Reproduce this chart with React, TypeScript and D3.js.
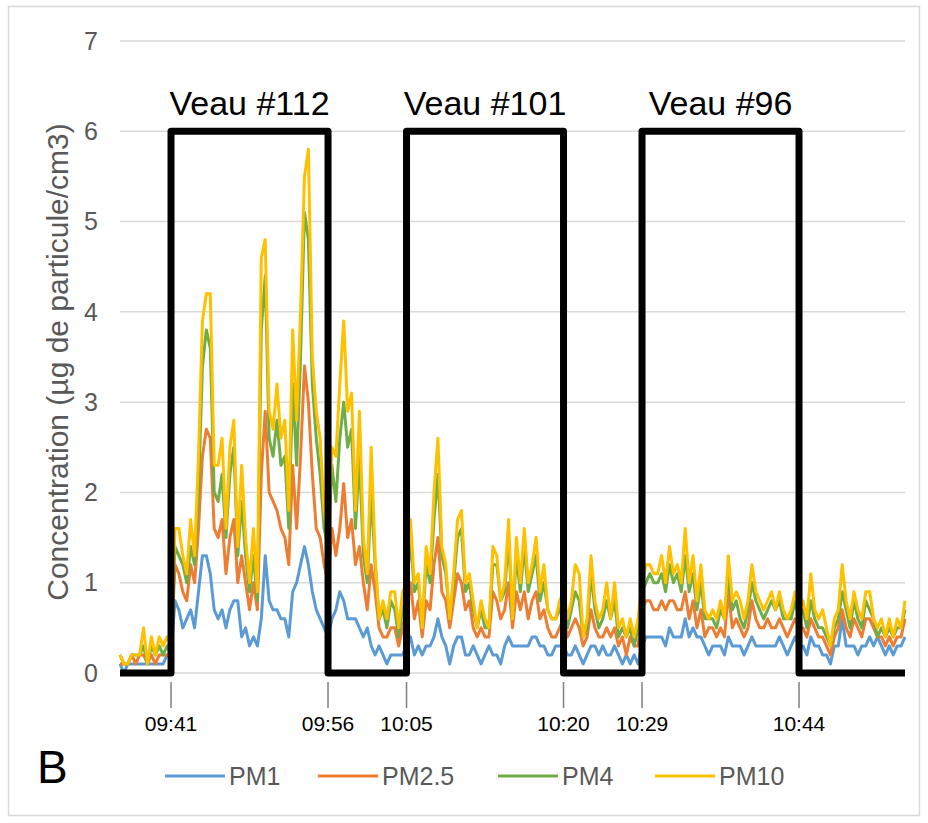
import React from 'react';
import * as d3 from 'd3';

// concentrations (µg/cm3), one reading per sample, 201 samples
const pm1 = [
  0.1, 0.0, 0.1, 0.1, 0.1, 0.1, 0.1, 0.1, 0.1, 0.1, 0.1, 0.1, 0.2, 0.2,
  0.8, 0.7, 0.5, 0.6, 0.7, 0.5, 0.9, 1.3, 1.3, 1.1, 0.7, 0.6, 0.7, 0.5, 0.7, 0.8, 0.8, 0.4, 0.5, 0.3, 0.4, 0.3, 0.6,
  1.3, 0.8, 0.7, 0.7, 0.6, 0.6, 0.4, 0.9, 1.0, 1.2, 1.4, 1.2, 0.9, 0.7, 0.6, 0.5, 0.4,
  0.6, 0.7, 0.9, 0.8, 0.6, 0.6, 0.6, 0.5, 0.4, 0.5, 0.3, 0.2, 0.3, 0.2, 0.1, 0.2, 0.2, 0.2, 0.2,
  0.3, 0.4, 0.2, 0.3, 0.2, 0.3, 0.3, 0.4, 0.6, 0.4, 0.3, 0.1, 0.3, 0.4, 0.4, 0.2, 0.2, 0.3, 0.2, 0.1,
  0.2, 0.3, 0.2, 0.2, 0.1, 0.3, 0.4, 0.3, 0.3, 0.3, 0.3, 0.3, 0.4, 0.4, 0.3, 0.3, 0.2, 0.2, 0.3, 0.3, 0.3,
  0.2, 0.2, 0.3, 0.2, 0.1, 0.2, 0.3, 0.3, 0.2, 0.3, 0.2, 0.2, 0.3, 0.2, 0.1, 0.2, 0.1, 0.2, 0.1,
  0.3, 0.4, 0.4, 0.4, 0.4, 0.4, 0.3, 0.5, 0.4, 0.4, 0.4, 0.6, 0.4, 0.5, 0.4, 0.4, 0.3, 0.2, 0.3, 0.3,
  0.3, 0.2, 0.4, 0.3, 0.3, 0.3, 0.2, 0.3, 0.4, 0.3, 0.3, 0.3, 0.3, 0.3, 0.3, 0.4, 0.3, 0.2, 0.3, 0.4, 0.3,
  0.3, 0.2, 0.4, 0.3, 0.3, 0.2, 0.2, 0.1, 0.3, 0.3, 0.6, 0.3, 0.3, 0.3, 0.2, 0.3, 0.3, 0.4, 0.3, 0.4,
  0.3, 0.2, 0.3, 0.2, 0.3, 0.3, 0.4,
];

const pm25 = [
  0.1, 0.1, 0.1, 0.2, 0.1, 0.2, 0.2, 0.1, 0.2, 0.1, 0.2, 0.2, 0.2, 0.2,
  1.2, 1.1, 0.9, 0.8, 1.2, 1.0, 1.6, 2.4, 2.7, 2.6, 1.6, 1.5, 1.7, 1.1, 1.5, 1.7, 1.0, 1.3, 1.0, 0.7, 1.0, 0.7, 2.2,
  2.9, 2.0, 1.9, 1.8, 1.6, 1.5, 1.2, 2.3, 1.6, 2.4, 3.4, 3.0, 2.2, 1.6, 1.5, 1.2, 1.0,
  1.6, 1.3, 1.6, 2.1, 1.5, 1.7, 1.2, 1.4, 1.0, 0.7, 1.2, 0.9, 0.5, 0.4, 0.4, 0.5, 0.5, 0.3, 0.5,
  0.7, 1.0, 0.6, 0.8, 0.4, 0.8, 0.7, 1.2, 1.5, 0.9, 0.8, 0.5, 0.8, 1.1, 1.0, 0.7, 0.8, 0.5, 0.4, 0.5,
  0.4, 0.4, 0.9, 0.8, 0.6, 0.7, 1.0, 0.5, 0.9, 0.7, 0.9, 0.6, 0.8, 0.9, 0.6, 0.7, 0.5, 0.4, 0.4, 0.5, 0.6,
  0.4, 0.5, 0.6, 0.5, 0.3, 0.4, 0.7, 0.5, 0.4, 0.4, 0.5, 0.4, 0.5, 0.3, 0.4, 0.2, 0.4, 0.3, 0.3,
  0.7, 0.8, 0.8, 0.7, 0.7, 0.8, 0.7, 0.8, 0.8, 0.7, 0.7, 0.9, 0.6, 0.8, 0.5, 0.7, 0.4, 0.5, 0.5, 0.4,
  0.5, 0.4, 0.9, 0.5, 0.6, 0.5, 0.4, 0.5, 0.8, 0.6, 0.5, 0.5, 0.6, 0.5, 0.5, 0.6, 0.5, 0.4, 0.5, 0.6, 0.5,
  0.5, 0.4, 0.6, 0.5, 0.4, 0.4, 0.3, 0.2, 0.4, 0.5, 0.7, 0.5, 0.4, 0.6, 0.5, 0.4, 0.6, 0.6, 0.5, 0.4,
  0.4, 0.3, 0.4, 0.3, 0.4, 0.4, 0.6,
];

const pm4 = [
  0.2, 0.1, 0.1, 0.2, 0.2, 0.2, 0.3, 0.1, 0.3, 0.2, 0.3, 0.2, 0.3, 0.2,
  1.4, 1.3, 1.2, 1.0, 1.4, 1.2, 2.0, 3.4, 3.8, 3.6, 2.0, 1.9, 2.2, 1.5, 2.2, 2.5, 1.3, 1.9, 1.3, 0.9, 1.3, 0.8, 3.8,
  4.4, 2.6, 2.4, 2.8, 2.3, 2.4, 1.6, 3.2, 2.3, 3.5, 5.1, 4.8, 3.2, 2.6, 2.2, 1.6, 1.4,
  2.3, 1.9, 2.6, 3.0, 2.5, 2.7, 1.6, 2.4, 1.3, 1.0, 2.0, 1.2, 0.6, 0.7, 0.5, 0.8, 0.7, 0.4, 0.7,
  0.9, 1.5, 0.9, 1.0, 0.5, 1.2, 1.0, 1.7, 2.2, 1.3, 1.1, 0.6, 1.0, 1.5, 1.6, 0.9, 1.0, 0.7, 0.5, 0.7,
  0.5, 0.5, 1.2, 1.2, 0.8, 0.9, 1.5, 0.6, 1.3, 0.9, 1.4, 0.9, 1.1, 1.3, 0.8, 1.0, 0.7, 0.6, 0.6, 0.7, 0.8,
  0.5, 0.7, 0.9, 0.8, 0.4, 0.5, 1.1, 0.7, 0.5, 0.6, 0.8, 0.6, 0.8, 0.4, 0.5, 0.4, 0.5, 0.3, 0.5,
  0.9, 1.0, 1.1, 1.0, 1.0, 1.1, 0.9, 1.2, 1.0, 1.1, 0.9, 1.3, 0.9, 1.1, 0.7, 1.0, 0.6, 0.6, 0.6, 0.5,
  0.7, 0.6, 1.1, 0.7, 0.8, 0.6, 0.5, 0.7, 1.0, 0.8, 0.7, 0.6, 0.7, 0.8, 0.7, 0.8, 0.6, 0.6, 0.6, 0.8, 0.6,
  0.7, 0.5, 0.8, 0.6, 0.5, 0.5, 0.4, 0.3, 0.5, 0.6, 0.9, 0.7, 0.5, 0.8, 0.6, 0.5, 0.8, 0.7, 0.6, 0.4,
  0.5, 0.4, 0.5, 0.4, 0.5, 0.5, 0.7,
];

const pm10 = [
  0.2, 0.1, 0.1, 0.2, 0.2, 0.2, 0.5, 0.1, 0.4, 0.2, 0.4, 0.3, 0.4, 0.3,
  1.6, 1.6, 1.3, 1.1, 1.7, 1.3, 2.4, 3.9, 4.2, 4.2, 2.3, 2.3, 2.6, 1.6, 2.5, 2.8, 1.4, 2.3, 1.5, 1.0, 1.6, 0.9, 4.6,
  4.8, 2.9, 2.7, 3.2, 2.6, 2.8, 1.8, 3.8, 2.8, 4.0, 5.5, 5.8, 3.5, 2.9, 2.6, 1.8, 1.5,
  2.5, 2.4, 3.2, 3.9, 2.9, 3.1, 1.8, 2.9, 1.5, 1.1, 2.5, 1.3, 0.6, 0.8, 0.6, 0.9, 0.9, 0.5, 0.9,
  1.0, 1.7, 1.0, 1.1, 0.5, 1.4, 1.1, 2.0, 2.6, 1.4, 1.2, 0.6, 1.1, 1.7, 1.8, 1.0, 1.1, 0.8, 0.5, 0.8,
  0.6, 0.5, 1.4, 1.3, 0.8, 1.0, 1.7, 0.6, 1.5, 1.0, 1.6, 1.0, 1.2, 1.5, 0.9, 1.2, 0.7, 0.6, 0.6, 0.8, 0.9,
  0.6, 0.8, 1.2, 1.1, 0.4, 0.6, 1.3, 0.8, 0.6, 0.7, 1.0, 0.6, 1.0, 0.5, 0.6, 0.4, 0.6, 0.4, 0.6,
  1.0, 1.2, 1.2, 1.1, 1.1, 1.3, 1.0, 1.4, 1.1, 1.2, 1.0, 1.6, 1.0, 1.3, 0.8, 1.2, 0.7, 0.6, 0.7, 0.6,
  0.8, 0.6, 1.3, 0.8, 0.9, 0.8, 0.6, 0.8, 1.2, 0.9, 0.8, 0.7, 0.8, 0.9, 0.7, 0.9, 0.7, 0.6, 0.7, 0.9, 0.7,
  0.8, 0.6, 1.1, 0.7, 0.6, 0.7, 0.5, 0.3, 0.6, 0.7, 1.2, 0.8, 0.6, 0.9, 0.7, 0.6, 0.9, 0.9, 0.6, 0.5,
  0.6, 0.4, 0.6, 0.4, 0.6, 0.5, 0.8,
];

const seriesNames = ['PM1', 'PM2.5', 'PM4', 'PM10'];
const seriesColors = ['#5B9BD5', '#ED7D31', '#70AD47', '#FFC000'];

// calf presence windows (sample index) and level of the black marker
const calves = ['Veau #112', 'Veau #101', 'Veau #96'];
const calfStart = [13, 73, 133];
const calfEnd = [53, 113, 173];
const calfLevel = 6;

const timeLabels = ['09:41', '09:56', '10:05', '10:20', '10:29', '10:44'];
const timeIndex = [13, 53, 73, 113, 133, 173];

const yTicks = [0, 1, 2, 3, 4, 5, 6, 7];

const W = 928;
const H = 823;
const margin = { top: 41, right: 23, bottom: 150, left: 120 };

const App: React.FC = () => {
  const series = [pm1, pm25, pm4, pm10];
  const n = pm10.length - 1;

  const x = d3.scaleLinear().domain([0, n]).range([margin.left, W - margin.right]);
  const y = d3.scaleLinear().domain([0, 7]).range([H - margin.bottom, margin.top]);

  const line = d3.line<number>()
    .x((_, i) => x(i))
    .y(d => y(d));

  // black presence marker: 0 outside, calfLevel while the calf is there
  const stepPts: [number, number][] = [[0, 0]];
  calfStart.forEach((s, i) => {
    stepPts.push([s, 0], [s, calfLevel], [calfEnd[i], calfLevel], [calfEnd[i], 0]);
  });
  stepPts.push([n, 0]);
  const stepLine = d3.line<[number, number]>()
    .x(d => x(d[0]))
    .y(d => y(d[1]));

  const legendX = [165, 318, 498, 655];
  const font = '"Liberation Sans", Arial, sans-serif';

  return (
    <svg width={W} height={H} style={{ position: 'absolute', left: 0, top: 0 }} fontFamily={font}>
      <rect x={0} y={0} width={W} height={H} fill="#fff" />
      <rect x={8.5} y={6.5} width={911} height={809} fill="none" stroke="#d9d9d9" strokeWidth={1.5} />

      {/* gridlines */}
      {yTicks.map(t => (
        <line key={t} x1={margin.left} x2={W - margin.right} y1={y(t)} y2={y(t)}
          stroke="#d9d9d9" strokeWidth={1.5} />
      ))}
      {yTicks.map(t => (
        <text key={'l' + t} x={98} y={y(t)} dy="0.35em" textAnchor="end" fontSize={25} fill="#595959">{t}</text>
      ))}
      <text transform={`translate(57,362) rotate(-90)`} textAnchor="middle"
        dy="0.35em" fontSize={30} fill="#595959">
        Concentration (µg de particule/cm3)
      </text>

      {/* series */}
      {series.map((s, k) => (
        <path key={seriesNames[k]} d={line(s) || ''} fill="none" stroke={seriesColors[k]}
          strokeWidth={3} strokeLinejoin="round" />
      ))}

      {/* calf windows */}
      <path d={stepLine(stepPts) || ''} fill="none" stroke="#000" strokeWidth={7} strokeLinejoin="round" />
      {calves.map((c, i) => (
        <text key={c} x={x((calfStart[i] + calfEnd[i]) / 2)} y={y(calfLevel) - 16} textAnchor="middle"
          fontSize={34} fill="#000">{c}</text>
      ))}

      {/* time ticks */}
      {timeLabels.map((t, i) => (
        <g key={t} transform={`translate(${x(timeIndex[i])},0)`}>
          <line y1={682} y2={708} stroke="#7f7f7f" strokeWidth={1.5} />
          <text y={731} textAnchor="middle" fontSize={21} fill="#000">{t}</text>
        </g>
      ))}

      {/* legend */}
      {seriesNames.map((s, k) => (
        <g key={s} transform={`translate(${legendX[k]},776)`}>
          <line x1={0} x2={60} stroke={seriesColors[k]} strokeWidth={3} />
          <text x={64} dy="0.35em" fontSize={25} fill="#595959">{s}</text>
        </g>
      ))}

      <text x={37} y={783} fontSize={46} fill="#000">B</text>
    </svg>
  );
};

export default App;
